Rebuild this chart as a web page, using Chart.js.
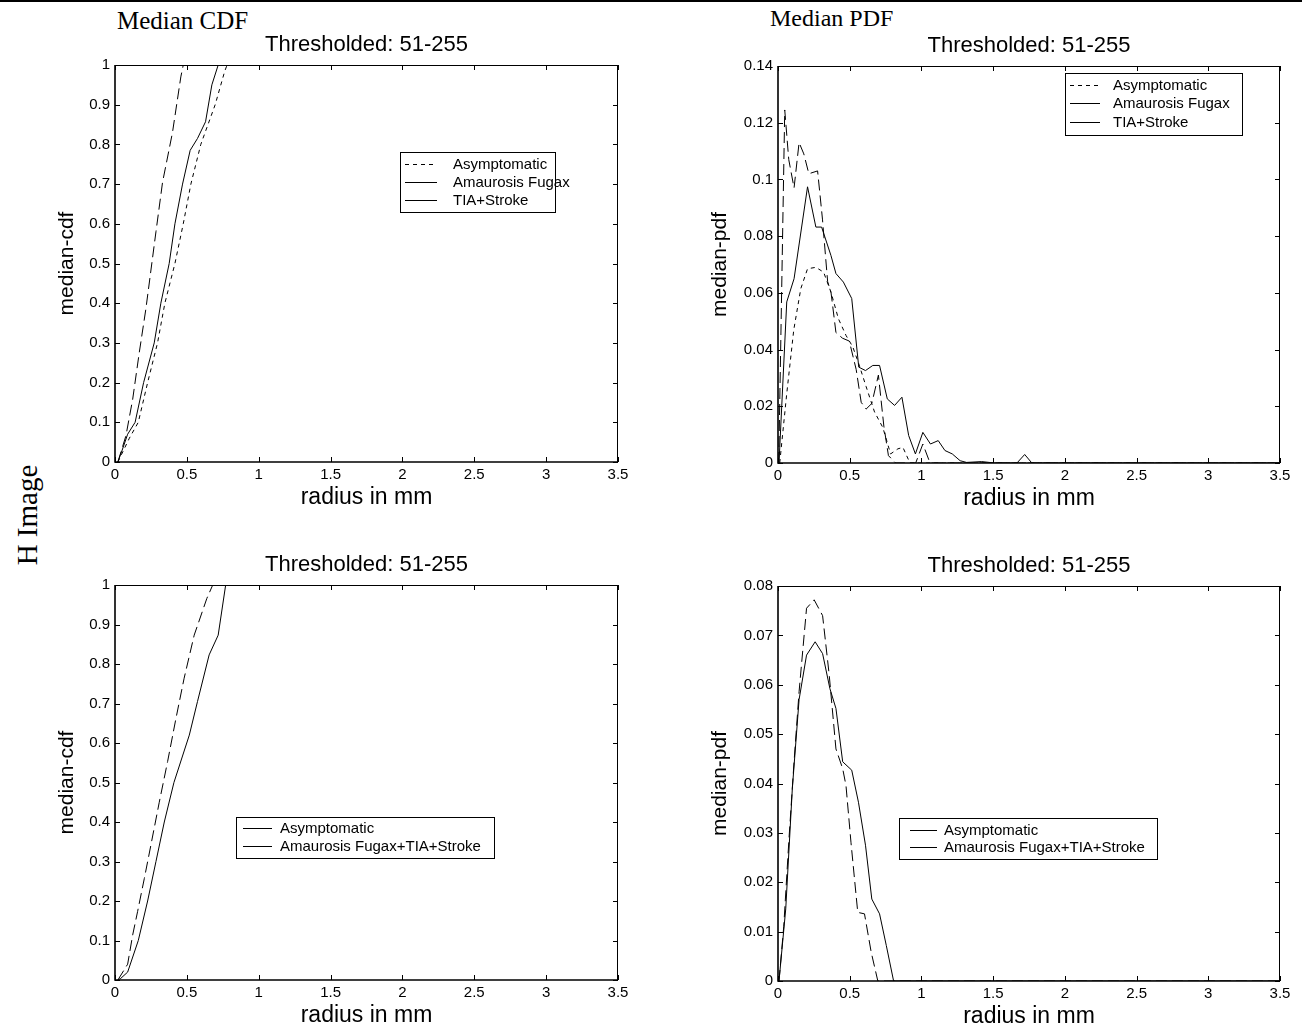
<!DOCTYPE html>
<html>
<head>
<meta charset="utf-8">
<script src="https://cdn.jsdelivr.net/npm/chart.js@4.4.1/dist/chart.umd.min.js"></script>
<style>
  html, body { margin: 0; padding: 0; background: #fff; }
  body { width: 1302px; height: 1026px; position: relative; overflow: hidden; }
  .rule { position: absolute; left: 0; top: 0; width: 1302px; height: 2px; background: #000; }
  .head { position: absolute; font-family: "Liberation Serif", "Times New Roman", serif; font-size: 25px; line-height: 25px; color: #000; white-space: nowrap; }
  .side { position: absolute; left: -33px; top: 498px; width: 120px; height: 34px; line-height: 34px; text-align: center;
          font-family: "Liberation Serif", "Times New Roman", serif; font-size: 29px; color: #000; transform: rotate(-90deg); white-space: nowrap; }
  canvas { position: absolute; }
</style>
</head>
<body>
<div class="rule"></div>
<div class="head" style="left:117px; top:8px;">Median CDF</div>
<div class="head" style="left:770px; top:6px; font-size:24px;">Median PDF</div>
<div class="side">H Image</div>

<canvas id="cdfTop" width="584" height="482" style="left:50px; top:29px;"></canvas>
<canvas id="pdfTop" width="593" height="482" style="left:703px; top:30px;"></canvas>
<canvas id="cdfBottom" width="584" height="480" style="left:50px; top:549px;"></canvas>
<canvas id="pdfBottom" width="593" height="480" style="left:703px; top:550px;"></canvas>

<script>
// ---- tick values and labels ----
const radiusTicks = [0, 0.5, 1, 1.5, 2, 2.5, 3, 3.5];
const radiusTickLabels = ['0', '0.5', '1', '1.5', '2', '2.5', '3', '3.5'];
const cdfTicks = [0, 0.1, 0.2, 0.3, 0.4, 0.5, 0.6, 0.7, 0.8, 0.9, 1];
const cdfTickLabels = ['0', '0.1', '0.2', '0.3', '0.4', '0.5', '0.6', '0.7', '0.8', '0.9', '1'];
const pdfTopTicks = [0, 0.02, 0.04, 0.06, 0.08, 0.1, 0.12, 0.14];
const pdfTopTickLabels = ['0', '0.02', '0.04', '0.06', '0.08', '0.1', '0.12', '0.14'];
const pdfBottomTicks = [0, 0.01, 0.02, 0.03, 0.04, 0.05, 0.06, 0.07, 0.08];
const pdfBottomTickLabels = ['0', '0.01', '0.02', '0.03', '0.04', '0.05', '0.06', '0.07', '0.08'];

const panelTitle = 'Thresholded: 51-255';
const xTitle = 'radius in mm';

// ---- median CDF, three groups ----
const cdfAsymX = [0.02, 0.06, 0.10, 0.162, 0.227, 0.296, 0.347, 0.417, 0.475, 0.528, 0.597, 0.697, 0.764, 0.78, 3.5];
const cdfAsymY = [0, 0.03, 0.06, 0.1, 0.2, 0.3, 0.4, 0.5, 0.6, 0.7, 0.8, 0.9, 0.985, 1, 1];
const cdfAmauX = [0.02, 0.05, 0.088, 0.14, 0.199, 0.273, 0.319, 0.377, 0.417, 0.47, 0.523, 0.574, 0.63, 0.674, 0.718, 3.5];
const cdfAmauY = [0, 0.03, 0.07, 0.1, 0.2, 0.3, 0.4, 0.5, 0.6, 0.7, 0.785, 0.815, 0.857, 0.95, 1, 1];
const cdfTiaX = [0.02, 0.076, 0.123, 0.169, 0.215, 0.285, 0.331, 0.40, 0.458, 0.475, 3.5];
const cdfTiaY = [0, 0.066, 0.158, 0.276, 0.386, 0.58, 0.705, 0.83, 0.97, 1, 1];

// ---- median PDF, three groups ----
const pdfAsymX = [0.012, 0.06, 0.11, 0.159, 0.206, 0.264, 0.318, 0.369, 0.421, 0.474, 0.521, 0.563, 0.614, 0.673, 0.731, 0.785, 0.836, 0.871, 0.92, 3.5];
const pdfAsymY = [0, 0.024, 0.047, 0.0615, 0.0685, 0.069, 0.0673, 0.0603, 0.0509, 0.045, 0.041, 0.035, 0.027, 0.018, 0.0125, 0.0032, 0.005, 0.0055, 0, 0];
const pdfAmauX = [0.007, 0.061, 0.112, 0.206, 0.264, 0.304, 0.369, 0.404, 0.456, 0.514, 0.563, 0.61, 0.661, 0.708, 0.762, 0.813, 0.864, 0.911, 0.958, 1.01, 1.063, 1.117, 1.164, 1.215, 1.27, 1.315, 1.42, 1.51, 1.666, 1.72, 1.77, 3.5];
const pdfAmauY = [0, 0.0568, 0.065, 0.0974, 0.0832, 0.0832, 0.0732, 0.0668, 0.0638, 0.058, 0.0338, 0.0326, 0.0344, 0.0344, 0.0226, 0.0203, 0.0232, 0.0097, 0.0032, 0.0108, 0.0067, 0.0079, 0.0044, 0.0032, 0.0008, 0.0002, 0.0005, 0, 0, 0.003, 0, 0];
const pdfTiaX = [0.005, 0.047, 0.075, 0.112, 0.147, 0.18, 0.215, 0.276, 0.31, 0.346, 0.37, 0.404, 0.45, 0.497, 0.545, 0.58, 0.614, 0.654, 0.70, 0.738, 0.77, 0.82, 0.96, 1.01, 1.06, 3.5];
const pdfTiaY = [0, 0.1245, 0.107, 0.097, 0.113, 0.109, 0.102, 0.103, 0.086, 0.064, 0.06, 0.046, 0.044, 0.043, 0.033, 0.0214, 0.019, 0.021, 0.031, 0.013, 0.0026, 0, 0, 0.0067, 0, 0];

// ---- two-group CDF and PDF ----
const cdf2AsymX = [0.02, 0.04, 0.088, 0.162, 0.227, 0.285, 0.343, 0.41, 0.517, 0.574, 0.655, 0.718, 0.77, 3.5];
const cdf2AsymY = [0, 0.004, 0.02, 0.1, 0.2, 0.3, 0.4, 0.5, 0.62, 0.705, 0.823, 0.873, 1, 1];
const cdf2SympX = [0.02, 0.088, 0.123, 0.157, 0.204, 0.25, 0.308, 0.366, 0.424, 0.481, 0.551, 0.639, 0.68, 3.5];
const cdf2SympY = [0, 0.04, 0.114, 0.173, 0.257, 0.342, 0.45, 0.553, 0.662, 0.764, 0.873, 0.966, 1, 1];
const pdf2AsymX = [0.007, 0.054, 0.10, 0.147, 0.199, 0.259, 0.311, 0.362, 0.404, 0.451, 0.514, 0.561, 0.61, 0.654, 0.708, 0.755, 0.806, 3.5];
const pdf2AsymY = [0, 0.0146, 0.039, 0.057, 0.066, 0.0687, 0.0663, 0.0592, 0.0552, 0.0444, 0.0427, 0.0362, 0.0275, 0.0166, 0.0136, 0.0072, 0, 0];
const pdf2SympX = [0.007, 0.04, 0.077, 0.112, 0.147, 0.199, 0.252, 0.311, 0.357, 0.404, 0.451, 0.474, 0.509, 0.556, 0.603, 0.65, 0.696, 3.5];
const pdf2SympY = [0, 0.011, 0.029, 0.0444, 0.0586, 0.0755, 0.0772, 0.074, 0.062, 0.047, 0.043, 0.0396, 0.028, 0.0139, 0.0136, 0.0058, 0, 0];

const groups3 = ['Asymptomatic', 'Amaurosis Fugax', 'TIA+Stroke'];
const groups2 = ['Asymptomatic', 'Amaurosis Fugax+TIA+Stroke'];

// ---- drawing helpers ----
const FONT = '"Liberation Sans", Arial, Helvetica, sans-serif';
const SHORT_DASH = [4, 4];
const LONG_DASH = [11, 5];

function points(xs, ys) { return xs.map((x, i) => ({ x: x, y: ys[i] })); }

function line(label, xs, ys, dash, legendDash) {
  return {
    label: label,
    data: points(xs, ys),
    showLine: true,
    borderColor: '#000',
    borderWidth: 1,
    borderDash: dash,
    legendDash: legendDash,
    pointRadius: 0,
    pointHoverRadius: 0,
    fill: false,
    tension: 0
  };
}

// Panel title centred over the plot box
const boxTitle = {
  id: 'boxTitle',
  afterDraw(chart, args, o) {
    const { ctx, chartArea: a } = chart;
    ctx.save();
    ctx.font = '22px ' + FONT;
    ctx.fillStyle = '#000';
    ctx.textAlign = 'center';
    ctx.textBaseline = 'alphabetic';
    ctx.fillText(o.text, (a.left + a.right) / 2, a.top - 14);
    ctx.restore();
  }
};

// Box frame with inward tick marks on all four sides
const framePlugin = {
  id: 'frame',
  afterDatasetsDraw(chart) {
    const { ctx, chartArea: a, scales } = chart;
    const xs = scales.x, ys = scales.y;
    const L = 5;
    ctx.save();
    ctx.setLineDash([]);
    ctx.strokeStyle = '#000';
    ctx.lineWidth = 1;
    ctx.beginPath();
    xs.ticks.forEach(t => {
      const p = Math.round(xs.getPixelForValue(t.value)) + 0.5;
      ctx.moveTo(p, a.bottom); ctx.lineTo(p, a.bottom - L);
      ctx.moveTo(p, a.top); ctx.lineTo(p, a.top + L);
    });
    ys.ticks.forEach(t => {
      const p = Math.round(ys.getPixelForValue(t.value)) + 0.5;
      ctx.moveTo(a.left, p); ctx.lineTo(a.left + L, p);
      ctx.moveTo(a.right, p); ctx.lineTo(a.right - L, p);
    });
    ctx.moveTo(a.left, a.top + 0.5); ctx.lineTo(a.right, a.top + 0.5);
    ctx.moveTo(a.right - 0.5, a.top); ctx.lineTo(a.right - 0.5, a.bottom);
    ctx.stroke();
    ctx.lineWidth = 1.6;
    ctx.beginPath();
    ctx.moveTo(a.left, a.top); ctx.lineTo(a.left, a.bottom);
    ctx.lineTo(a.right, a.bottom);
    ctx.stroke();
    ctx.restore();
  }
};

// Boxed legend placed inside the plot area
const boxLegend = {
  id: 'boxLegend',
  afterDraw(chart, args, o) {
    const { ctx, chartArea: a } = chart;
    const bx = Math.round(a.left + o.x), by = Math.round(a.top + o.y);
    ctx.save();
    ctx.fillStyle = '#fff';
    ctx.fillRect(bx, by, o.w, o.h);
    ctx.strokeStyle = '#000';
    ctx.lineWidth = 1;
    ctx.setLineDash([]);
    ctx.strokeRect(bx + 0.5, by + 0.5, o.w, o.h);
    ctx.font = '15px ' + FONT;
    ctx.textBaseline = 'middle';
    ctx.textAlign = 'left';
    ctx.fillStyle = '#000';
    chart.data.datasets.forEach((ds, i) => {
      const ry = by + o.rows[i] + 0.5;
      ctx.setLineDash(ds.legendDash || []);
      ctx.beginPath();
      ctx.moveTo(bx + o.line[0], ry);
      ctx.lineTo(bx + o.line[1], ry);
      ctx.stroke();
      ctx.setLineDash([]);
      ctx.fillText(ds.label, bx + o.textX, ry);
    });
    ctx.restore();
  }
};

function makeChart(id, datasets, yTicks, yLabels, yTitle, yMax, yWidth, legend) {
  return new Chart(document.getElementById(id), {
    type: 'scatter',
    data: { datasets: datasets },
    plugins: [framePlugin, boxLegend, boxTitle],
    options: {
      responsive: false,
      animation: false,
      devicePixelRatio: 1,
      events: [],
      layout: { padding: { left: 0, right: 16, top: 36, bottom: 0 } },
      plugins: {
        legend: { display: false },
        tooltip: { enabled: false },
        title: { display: false },
        boxTitle: { text: panelTitle },
        boxLegend: legend
      },
      scales: {
        x: {
          type: 'linear', min: 0, max: 3.5,
          grid: { display: false, drawTicks: false },
          border: { display: false },
          afterBuildTicks: s => { s.ticks = radiusTicks.map(v => ({ value: v })); },
          afterFit: s => { s.height = 49; },
          ticks: {
            padding: 4, color: '#000', autoSkip: false, maxRotation: 0,
            font: { family: FONT, size: 15 },
            callback: (v, i) => radiusTickLabels[i]
          },
          title: {
            display: true, text: xTitle, color: '#000',
            font: { family: FONT, size: 23 }, padding: { top: 0, bottom: 0 }
          }
        },
        y: {
          type: 'linear', min: 0, max: yMax,
          grid: { display: false, drawTicks: false },
          border: { display: false },
          afterBuildTicks: s => { s.ticks = yTicks.map(v => ({ value: v })); },
          afterFit: s => { s.width = yWidth; },
          ticks: {
            padding: 5, color: '#000', autoSkip: false,
            font: { family: FONT, size: 15 },
            callback: (v, i) => yLabels[i]
          },
          title: {
            display: true, text: yTitle, color: '#000',
            font: { family: FONT, size: 21 }, padding: { top: 5, bottom: 0 }
          }
        }
      }
    }
  });
}

makeChart('cdfTop', [
  line(groups3[0], cdfAsymX, cdfAsymY, SHORT_DASH, SHORT_DASH),
  line(groups3[1], cdfAmauX, cdfAmauY, [], []),
  line(groups3[2], cdfTiaX, cdfTiaY, LONG_DASH, [])
], cdfTicks, cdfTickLabels, 'median-cdf', 1, 65,
  { x: 285, y: 87, w: 155, h: 60, rows: [12, 30, 48], line: [5, 37], textX: 53 });

makeChart('pdfTop', [
  line(groups3[0], pdfAsymX, pdfAsymY, SHORT_DASH, SHORT_DASH),
  line(groups3[1], pdfAmauX, pdfAmauY, [], []),
  line(groups3[2], pdfTiaX, pdfTiaY, LONG_DASH, [])
], pdfTopTicks, pdfTopTickLabels, 'median-pdf', 0.14, 75,
  { x: 287, y: 7, w: 177, h: 62, rows: [12, 30, 49], line: [5, 35], textX: 48 });

makeChart('cdfBottom', [
  line(groups2[0], cdf2AsymX, cdf2AsymY, [], []),
  line(groups2[1], cdf2SympX, cdf2SympY, LONG_DASH, [])
], cdfTicks, cdfTickLabels, 'median-cdf', 1, 65,
  { x: 121, y: 232, w: 258, h: 41, rows: [11, 29], line: [7, 36], textX: 44 });

makeChart('pdfBottom', [
  line(groups2[0], pdf2AsymX, pdf2AsymY, [], []),
  line(groups2[1], pdf2SympX, pdf2SympY, LONG_DASH, [])
], pdfBottomTicks, pdfBottomTickLabels, 'median-pdf', 0.08, 75,
  { x: 121, y: 232, w: 258, h: 41, rows: [12, 29], line: [11, 38], textX: 45 });
</script>
</body>
</html>
